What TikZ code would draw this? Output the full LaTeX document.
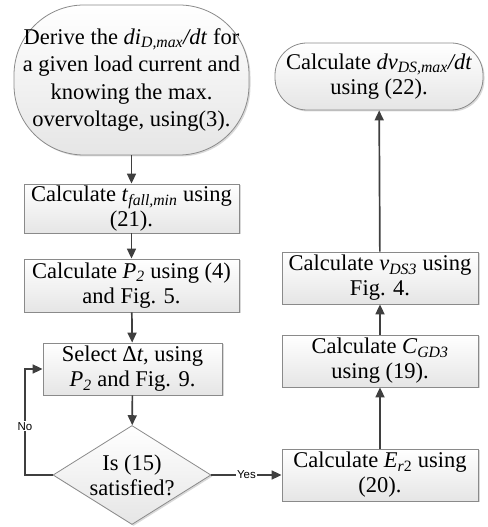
\documentclass[tikz,border=0pt]{standalone}
\usepackage{fontspec}
\setmainfont{Liberation Serif}
\newfontfamily\lblfont{Liberation Sans}
\usetikzlibrary{arrows.meta,positioning,shapes.geometric,shadows}
\definecolor{edge}{HTML}{8A8A8A}
\definecolor{wire}{HTML}{3F3F3F}
\tikzset{
	txt/.style={font=\fontsize{22.5}{25}\selectfont,align=center,inner sep=1pt},
	filled/.style={draw=edge,line width=0.8pt,top color=white,bottom color=gray!20,
		drop shadow={shadow xshift=1.5pt,shadow yshift=-1.5pt,opacity=0.3}},
	box/.style={txt,filled,rectangle,minimum width=#1,minimum height=52pt},
	box/.default=196pt,
	term/.style={txt,filled,rectangle,rounded corners=#1},
	decision/.style={txt,filled,diamond,aspect=1.6,inner sep=0pt,minimum width=158pt,minimum height=99pt},
	lbl/.style={font=\lblfont\fontsize{11.5}{12}\selectfont,fill=white,inner sep=1pt},
	link/.style={draw=wire,line width=1.7pt,-{Triangle[length=10pt,width=9pt]}}
}

\begin{document}
\begin{tikzpicture}[x=1pt,y=1pt]
	\useasboundingbox (0,0) rectangle (487,527);
	% left column
	\node[term=70pt,minimum width=235pt,minimum height=150pt,font=\fontsize{22.5}{27.5}\selectfont] (derive) at (131.5,447)
		{Derive the \textit{di}\textsubscript{\textit{D,max}}\textit{/dt} for\\ a given load current and\\ knowing the max.\\ overvoltage, using(3).};
	\node[box=215pt,minimum height=49pt] (tfall) at (131.5,318.5)
		{Calculate \textit{t}\textsubscript{\textit{fall,min}} using\\ (21).};
	\node[box=215pt,minimum height=53pt] (ptwo) at (131.5,241.5)
		{Calculate \textit{P}\textsubscript{\textit{2}} using (4)\\ and Fig. 5.};
	\node[box=179pt] (select) at (132.5,158)
		{Select Δ\textit{t}, using\\ \textit{P}\textsubscript{\textit{2}} and Fig. 9.};
	\node[decision] (check) at (132,52) {Is (15)\\ satisfied?};
	\coordinate (noturn) at (25,52);
	% right column
	\node[box] (ertwo) at (380,52)
		{Calculate \textit{E}\textsubscript{\textit{r}2} using\\ (20).};
	\node[box] (cgd) at (380,166)
		{Calculate \textit{C}\textsubscript{\textit{GD3}}\\ using (19).};
	\node[box] (vds) at (380,249)
		{Calculate \textit{v}\textsubscript{\textit{DS3}} using\\ Fig. 4.};
	\node[term=32pt,minimum width=208pt,minimum height=67pt] (dvdt) at (379,450.5)
		{Calculate \textit{dv}\textsubscript{\textit{DS,max}}\textit{/dt}\\ using (22).};

	\draw[link] (derive) -- (tfall);
	\draw[link] (tfall) -- (ptwo);
	\draw[link] (ptwo) -- (select);
	\draw[link] (select) -- (check);
	\draw[link] (check.west) -- (noturn) |- node[lbl,pos=0.23] {No} (select.west);
	\draw[link] (check.east) -- node[lbl] {Yes} (ertwo.west);
	\draw[link] (ertwo) -- (cgd);
	\draw[link] (cgd) -- (vds);
	\draw[link] (vds) -- (dvdt);
\end{tikzpicture}
\end{document}
